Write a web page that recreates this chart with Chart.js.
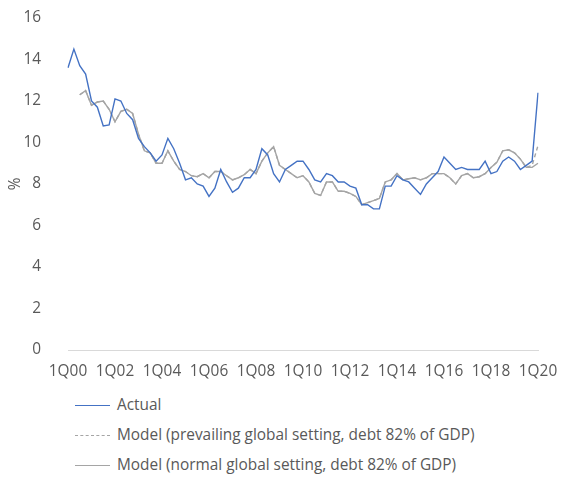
<!DOCTYPE html>
<html>
<head>
<meta charset="utf-8">
<script src="https://cdn.jsdelivr.net/npm/chart.js@4/dist/chart.umd.min.js"></script>
<style>
  html, body { margin: 0; padding: 0; background: #fff; overflow: hidden; }
  #wrap { position: relative; width: 561px; height: 390px; }
  #legend { padding-left: 75px; font-family: "Open Sans", sans-serif; font-size: 15.4px; color: #595959; }
  #legend .row { height: 30px; line-height: 30px; white-space: nowrap; }
  #legend .swatch { display: inline-block; width: 35px; height: 0; vertical-align: middle; margin-right: 7px; }
</style>
</head>
<body>
<div id="wrap"><canvas id="chart"></canvas></div>
<div id="legend"></div>
<script>
'use strict';

// trimestres 1Q00 .. 1Q20
var years = ['00','01','02','03','04','05','06','07','08','09','10','11','12','13','14','15','16','17','18','19','20'];
var quarters = [];
years.forEach(function(y) {
  for (var q = 1; q <= 4; q++) {
    if (y === '20' && q > 1) break;
    quarters.push(q + 'Q' + y);
  }
});

var seriesNames = [
  'Actual',
  'Model (prevailing global setting, debt 82% of GDP)',
  'Model (normal global setting, debt 82% of GDP)'
];

var actual = [
  13.6, 14.5, 13.7, 13.3, 12.0, 11.7, 10.8, 10.85, 12.1, 12.0,
  11.4, 11.1, 10.2, 9.8, 9.5, 9.1, 9.4, 10.2, 9.7, 9.0,
  8.2, 8.3, 8.0, 7.9, 7.4, 7.8, 8.7, 8.1, 7.6, 7.8,
  8.3, 8.3, 8.7, 9.7, 9.4, 8.5, 8.1, 8.7, 8.9, 9.1,
  9.1, 8.7, 8.2, 8.1, 8.5, 8.4, 8.1, 8.1, 7.9, 7.8,
  7.0, 7.0, 6.8, 6.8, 7.9, 7.9, 8.4, 8.2, 8.1, 7.8,
  7.5, 8.0, 8.3, 8.6, 9.3, 9.0, 8.7, 8.8, 8.7, 8.7,
  8.7, 9.1, 8.5, 8.6, 9.1, 9.3, 9.1, 8.7, 8.9, 9.1,
  12.4
];

var modelPrevailing = [
  null, null, 12.3, 12.5, 11.8, 11.95, 12.0, 11.6, 11.0, 11.5,
  11.6, 11.4, 10.4, 9.6, 9.5, 9.0, 9.0, 9.6, 9.1, 8.7,
  8.6, 8.4, 8.35, 8.5, 8.3, 8.6, 8.6, 8.4, 8.2, 8.3,
  8.45, 8.7, 8.5, 9.1, 9.5, 9.8, 8.9, 8.7, 8.5, 8.3,
  8.4, 8.1, 7.55, 7.45, 8.1, 8.1, 7.65, 7.65, 7.55, 7.4,
  7.0, 7.1, 7.2, 7.3, 8.1, 8.2, 8.5, 8.2, 8.25, 8.3,
  8.2, 8.3, 8.5, 8.5, 8.5, 8.3, 8.0, 8.4, 8.5, 8.3,
  8.35, 8.5, 8.8, 9.05, 9.6, 9.65, 9.5, 9.2, 8.8, 8.9,
  9.85
];

var modelNormal = [
  null, null, 12.3, 12.5, 11.8, 11.95, 12.0, 11.6, 11.0, 11.5,
  11.6, 11.4, 10.4, 9.6, 9.5, 9.0, 9.0, 9.6, 9.1, 8.7,
  8.6, 8.4, 8.35, 8.5, 8.3, 8.6, 8.6, 8.4, 8.2, 8.3,
  8.45, 8.7, 8.5, 9.1, 9.5, 9.8, 8.9, 8.7, 8.5, 8.3,
  8.4, 8.1, 7.55, 7.45, 8.1, 8.1, 7.65, 7.65, 7.55, 7.4,
  7.0, 7.1, 7.2, 7.3, 8.1, 8.2, 8.5, 8.2, 8.25, 8.3,
  8.2, 8.3, 8.5, 8.5, 8.5, 8.3, 8.0, 8.4, 8.5, 8.3,
  8.35, 8.5, 8.8, 9.05, 9.6, 9.65, 9.5, 9.2, 8.8, 8.8,
  9.0
];

var yTicks = [0, 2, 4, 6, 8, 10, 12, 14, 16];

var colores = ['#4472C4', '#A5A5A5', '#A5A5A5'];
var dashes  = [[], [4, 3], []];
var fuente  = '"Open Sans", sans-serif';
var gris    = '#595959';

var datasets = [actual, modelPrevailing, modelNormal].map(function(d, i) {
  return {
    label: seriesNames[i],
    data: d,
    borderColor: colores[i],
    borderWidth: 1.4,
    borderDash: dashes[i],
    pointRadius: 0,
    pointHoverRadius: 0,
    tension: 0,
    fill: false,
    spanGaps: false
  };
});

var ctx = document.getElementById('chart').getContext('2d');
new Chart(ctx, {
  type: 'line',
  data: { labels: quarters, datasets: datasets },
  options: {
    responsive: true,
    maintainAspectRatio: false,
    animation: false,
    layout: { padding: { top: 18, right: 23, bottom: 0, left: 0 } },
    plugins: { legend: { display: false }, tooltip: { enabled: false } },
    scales: {
      x: {
        offset: false,
        grid: { display: false, drawTicks: false },
        border: { display: true, color: '#D9D9D9', width: 1 },
        afterFit: function(s) { s.height = 40; s.paddingLeft = 0; s.paddingRight = 0; },
        ticks: {
          autoSkip: false,
          maxRotation: 0,
          minRotation: 0,
          padding: 12,
          color: gris,
          font: { family: fuente, size: 15.4 },
          callback: function(v, i) { return i % 8 === 0 ? this.getLabelForValue(v) : ''; }
        }
      },
      y: {
        min: yTicks[0],
        max: yTicks[yTicks.length - 1],
        afterBuildTicks: function(s) { s.ticks = yTicks.map(function(v) { return { value: v }; }); },
        grid: { display: false, drawTicks: false },
        border: { display: false },
        afterFit: function(s) { s.width = 68; s.paddingTop = 0; s.paddingBottom = 0; },
        ticks: {
          padding: 27,
          color: gris,
          font: { family: fuente, size: 15.4 }
        },
        title: {
          display: true,
          text: '%',
          color: gris,
          padding: { top: 6, bottom: 0 },
          font: { family: fuente, size: 15.4 }
        }
      }
    }
  }
});

// leyenda en columna, como en el original
var leyenda = document.getElementById('legend');
seriesNames.forEach(function(nombre, i) {
  var fila = document.createElement('div');
  fila.className = 'row';
  var sw = document.createElement('span');
  sw.className = 'swatch';
  sw.style.borderTop = '1.5px ' + (dashes[i].length ? 'dashed ' : 'solid ') + colores[i];
  fila.appendChild(sw);
  fila.appendChild(document.createTextNode(nombre));
  leyenda.appendChild(fila);
});
</script>
</body>
</html>
